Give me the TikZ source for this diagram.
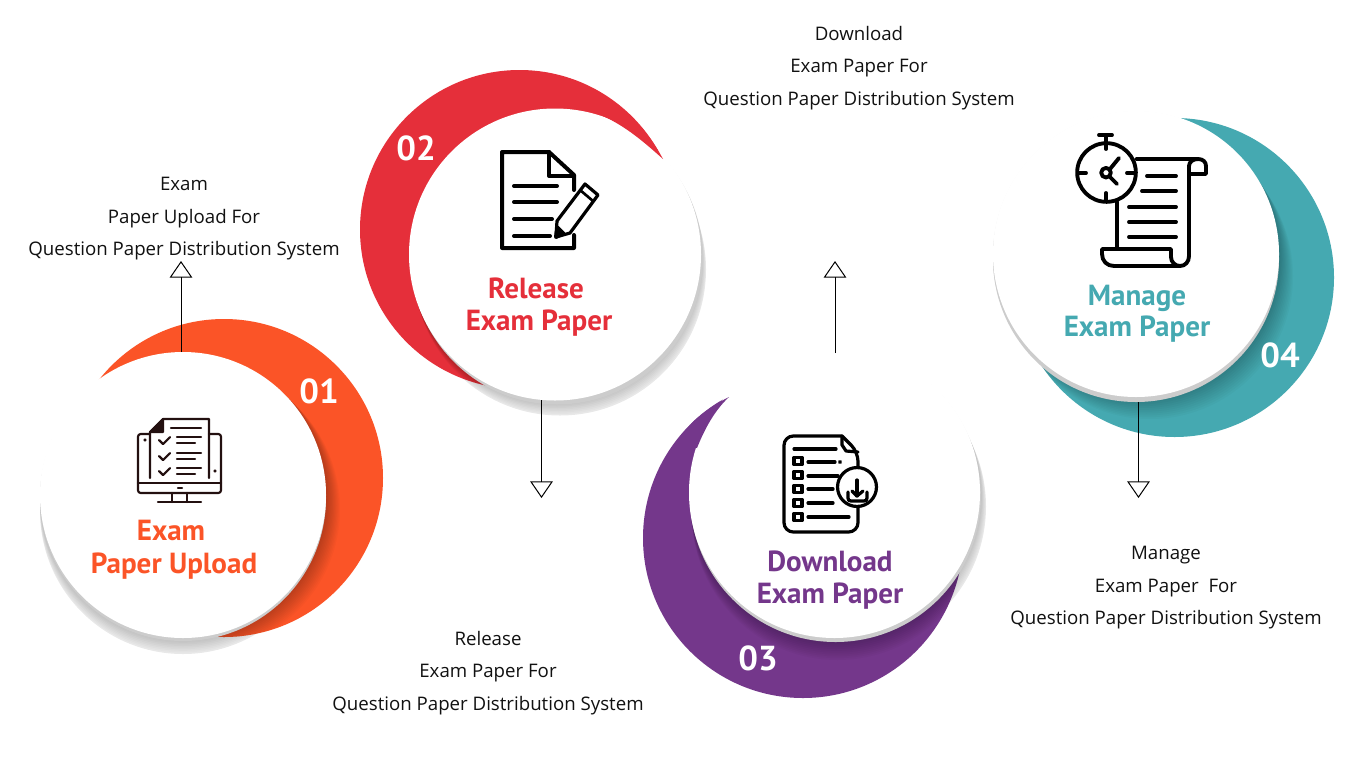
\documentclass[tikz,border=0pt]{standalone}
\usepackage{fontspec}
\usetikzlibrary{arrows.meta}
\newfontfamily\labfont{Open Sans}
\newfontfamily\ttlfont{PT Sans}
\definecolor{corange}{HTML}{FB5427}
\definecolor{cred}{HTML}{E52F3A}
\definecolor{cpurple}{HTML}{74378B}
\definecolor{cteal}{HTML}{45A9B1}
\definecolor{cink}{HTML}{111111}
\definecolor{cdark}{HTML}{231010}
\tikzset{
  disc/.style={circle,fill=white,inner sep=0pt,outer sep=0pt},
  steptitle/.style={font=\ttlfont\bfseries\fontsize{21.8}{25}\selectfont,align=center,inner sep=0pt},
  stepnum/.style={font=\ttlfont\bfseries\fontsize{26}{30}\selectfont,text=white,inner sep=0pt},
  lab/.style={font=\labfont\fontsize{14}{24.4}\selectfont,text=cink,align=center,inner sep=0pt},
  flow/.style={draw=black,line width=0.75pt,-{Triangle[open,length=12.5pt,width=17pt,line width=0.75pt]}},
  ico/.style={line width=#1,line cap=round,line join=round,draw=black},
  ico/.default=2.4pt
}
\begin{document}
\begin{tikzpicture}[x=0.75pt,y=-0.75pt]
\useasboundingbox (0,0) rectangle (1366,768);
\fill[white] (0,0) rectangle (1366,768);

% ---------- grey outer shadows
\foreach \cx/\cy/\r/\dx/\dy in {183/495/143/0/16, 555/254.5/146/5/15, 834.5/492.5/145.5/6/14, 1136/254/143/0/4}{
  \fill[black,opacity=0.07] ({\cx+\dx},{\cy+\dy}) circle[radius=\r*0.75pt];
  \foreach \i in {1,...,10}{
    \fill[black,opacity=0.02] ({\cx+\dx*\i/10},{\cy+\dy*\i/10}) circle[radius=\r*0.75pt];
  }
}
% ---------- crescents with inner shadow and rim
\foreach \bx/\by/\br/\cx/\cy/\r/\dx/\dy/\rx/\ry/\col in {
  224/478/159/183/495/143/14/14/0/3/corange,
  519.5/229.5/159.5/555/254.5/146/5/15/2/4/cred,
  803/538/160/834.5/492.5/145.5/3/22/1/4/cpurple,
  1174.5/277.5/159.5/1136/254/143/14/22/0/5/cteal}{
  \fill[\col] (\bx,\by) circle[radius=\br*0.75pt];
  \begin{scope}
    \clip (\bx,\by) circle[radius=\br*0.75pt];
    \foreach \i in {1,...,12}{
      \fill[black,opacity=0.022] ({\cx+\dx*\i/12},{\cy+\dy*\i/12}) circle[radius=\r*0.75pt];
    }
  \end{scope}
  \fill[gray!40] ({\cx+\rx},{\cy+\ry}) circle[radius=\r*0.75pt];
}
% ---------- discs
\node[disc,minimum size=214.5pt] (w1) at (183,495) {};
\node[disc,minimum size=219pt] (w2) at (555,254.5) {};
\node[disc,minimum size=218.25pt] (w3) at (834.5,492.5) {};
\node[disc,minimum size=214.5pt] (w4) at (1136,254) {};

% ---------- crescent tips that run on over the discs
\fill[cred] (663,159) .. controls (645,143) and (627,127) .. (603,116) -- (603,104) -- (625,112) -- (640,126) .. controls (650,137) and (657,148) .. cycle;
\fill[cpurple] (729,397) .. controls (715,410) and (705,428) .. (697,448) -- (680,445) -- (683,433) -- (690,425) .. controls (700,414) and (715,404) .. cycle;

% ---------- numbers
\node[stepnum] (n1) at (319,391) {01};
\node[stepnum] (n2) at (416,148) {02};
\node[stepnum] (n3) at (758,658) {03};
\node[stepnum] (n4) at (1280,355) {04};

% ---------- step titles
\node[steptitle,text=corange] (t1a) at (171,530) {Exam};
\node[steptitle,text=corange] (t1b) at (174,566) {Paper Upload};
\node[steptitle,text=cred] (t2a) at (536,288) {Release};
\node[steptitle,text=cred] (t2b) at (539,323.5) {Exam Paper};
\node[steptitle,text=cpurple] (t3a) at (830,561) {Download};
\node[steptitle,text=cpurple] (t3b) at (830,596.5) {Exam Paper};
\node[steptitle,text=cteal] (t4a) at (1137,298) {Manage};
\node[steptitle,text=cteal] (t4b) at (1137,329.5) {Exam Paper};

% ---------- labels
\node[lab] (l1) at (184,219) {Exam\hspace{4pt}\\Paper Upload For\\Question Paper Distribution System};
\node[lab] (l2) at (488,673) {Release\hspace{1pt}\\Exam Paper For\hspace{1pt}\\Question Paper Distribution System};
\node[lab] (l3) at (859,68) {Download\\Exam Paper For\\Question Paper Distribution System};
\node[lab] (l4) at (1166,588) {Manage\\Exam Paper\ \ For\hspace{3pt}\\Question Paper Distribution System};

% ---------- connectors
\coordinate (a1s) at (181,352); \coordinate (a1e) at (181,261);
\coordinate (a2s) at (541.5,400); \coordinate (a2e) at (541.5,498);
\coordinate (a3s) at (835,353); \coordinate (a3e) at (835,261);
\coordinate (a4s) at (1138.5,402); \coordinate (a4e) at (1138.5,498);
\draw[flow] (a1s) -- (a1e);
\draw[flow] (a2s) -- (a2e);
\draw[flow] (a3s) -- (a3e);
\draw[flow] (a4s) -- (a4e);

% ---------- icon 1: monitor + checklist
\begin{scope}[every path/.style={ico=1.6pt,draw=cdark}]
  \draw[rounded corners=2pt] (150,434) -- (138,434) -- (138,493) -- (221,493) -- (221,434) -- (209,434);
  \draw (138,483) -- (221,483);
  \draw (172,493) -- (172,502); \draw (187,493) -- (187,502);
  \draw (158,502) -- (201,502);
  \draw (150,478) -- (150,432) -- (163,419) -- (209,419) -- (209,478);
  \fill[cdark] (163,419) -- (150,432) -- (163,432) -- cycle;
  \draw (171,428) -- (201,428);
  \draw (177,437) -- (201,437); \draw (177,443) -- (195,443);
  \draw (177,453) -- (201,453); \draw (177,459) -- (195,459);
  \draw (177,468) -- (201,468); \draw (177,474) -- (195,474);
  \draw (159,440) -- (163,444) -- (170,437);
  \draw (159,456) -- (163,460) -- (170,453);
  \draw (159,471) -- (163,475) -- (170,468);
  \draw (178,488) -- (182,488);
  \fill[cdark] (145,440) circle[radius=0.5pt];
  \fill[cdark] (215,471) circle[radius=0.5pt];
\end{scope}

% ---------- icon 2: document + pencil
\begin{scope}[every path/.style={ico=3pt}]
  \draw (574,190) -- (574,175) -- (549,152) -- (502,152) -- (502,248) -- (574,248) -- (574,235);
  \draw (549,152) -- (549,176) -- (574,176);
  \draw (514,186) -- (557,186);
  \draw (514,202) -- (557,202);
  \draw (514,219) -- (552,219);
  \draw (514,236) -- (550,236);
  \draw[line width=2.4pt] (585,184) -- (598,195) -- (570,233) -- (556,237) -- (557,221) -- cycle;
  \draw[line width=2pt] (580,190) -- (593,201);
  \draw[line width=1.8pt] (558,227) -- (564,233);
  \fill (556,237) -- (557,230) -- (562,234) -- cycle;
\end{scope}

% ---------- icon 3: document + download
\begin{scope}[every path/.style={ico=2.4pt}]
  \draw[rounded corners=7pt] (858,472) -- (858,452) [sharp corners] -- (842,436) [rounded corners=7pt] -- (784,436) -- (784,532) -- (858,532) -- (858,508);
  \draw (842,436) -- (842,445) -- (846,451) -- (858,452);
  \draw (794,449) -- (836,449);
  \foreach \yy in {461,475,489,503,517}{
    \draw[line width=2.6pt] (794,\yy-3.5) rectangle (802,\yy+3.5);
  }
  \draw (808,462) -- (835,462); \fill (840,462) circle[radius=0.4pt];
  \draw (808,476) -- (838,476);
  \draw (808,489) -- (833,489);
  \draw (808,503) -- (833,503);
  \draw (808,517) -- (849,517);
  \draw[fill=white] (857,487) circle[radius=14.6pt];
  \draw (857,480) -- (857,496);
  \draw (852,491) -- (857,496) -- (863,491);
  \draw (848,492) -- (848,498) .. controls (848,500) and (849,501) .. (851,501) -- (864,501) .. controls (866,501) and (867,500) .. (867,498) -- (867,492);
\end{scope}

% ---------- icon 4: stopwatch + scroll
\begin{scope}[every path/.style={ico=2.9pt}]
  \draw (1136,159) -- (1198,159) .. controls (1203,159) and (1206,162) .. (1206,166) -- (1206,174) -- (1189,174);
  \draw (1198,159) .. controls (1193,159) and (1189,162) .. (1189,166) -- (1189,256) .. controls (1189,262) and (1185,266) .. (1180,266) .. controls (1175,266) and (1171,262) .. (1171,257) -- (1171,249) -- (1102,249) -- (1102,254) .. controls (1102,261) and (1107,266) .. (1114,266) -- (1180,266);
  \draw (1117,202) -- (1117,249);
  \draw (1147,176) -- (1176,176);
  \draw (1142,191) -- (1176,191);
  \draw (1129,207) -- (1176,207);
  \draw (1129,222) -- (1176,222);
  \draw (1129,237) -- (1176,237);
  \draw (1106.5,172.5) circle[radius=22pt];
  \draw (1099,135) -- (1112,135);
  \draw (1106,135) -- (1106,149);
  \draw (1078,173) -- (1086,173);
  \draw (1127,173) -- (1135,173);
  \draw (1106,193) -- (1106,201);
  \draw (1106,172.7) circle[radius=3.6pt];
  \draw (1110,169) -- (1119,158);
  \draw (1110,177) -- (1117,184);
\end{scope}
\end{tikzpicture}
\end{document}
